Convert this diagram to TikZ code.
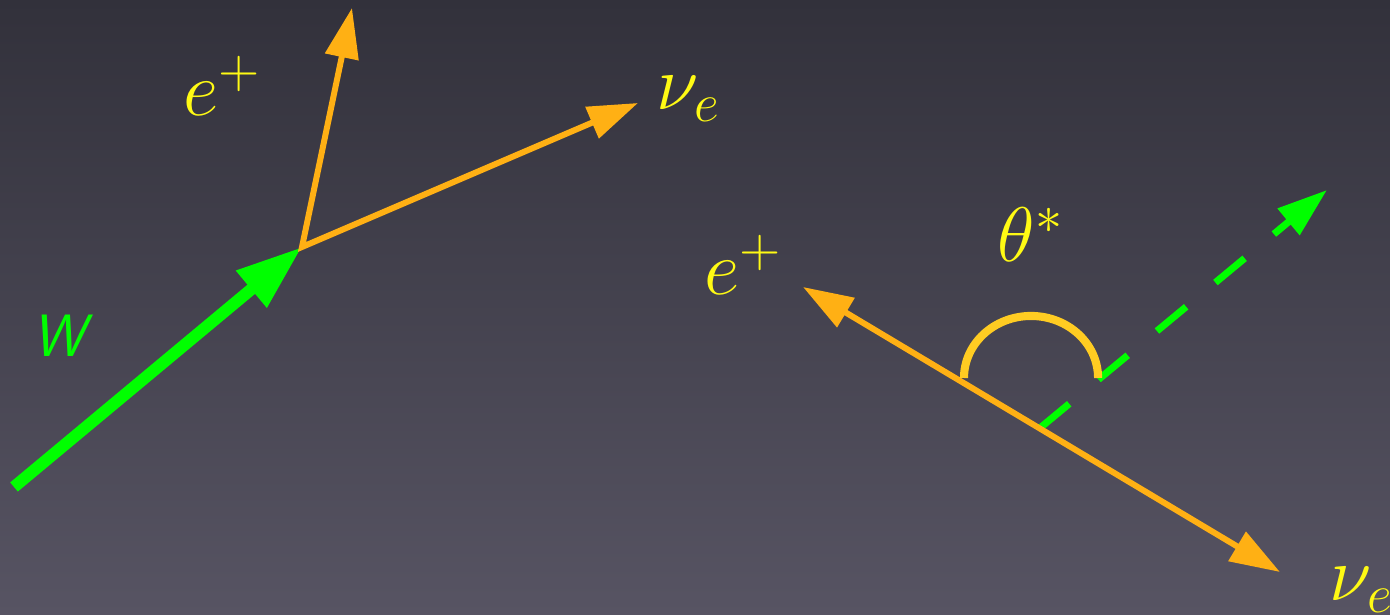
\RequirePackage{fix-cm}
\documentclass[tikz,border=0pt]{standalone}
\usetikzlibrary{arrows.meta}

\definecolor{bgtop}{RGB}{50,49,59}
\definecolor{bgbot}{RGB}{87,84,99}
\definecolor{lepton}{RGB}{255,176,20}
\definecolor{boson}{RGB}{0,255,0}
\definecolor{lblyellow}{RGB}{255,250,20}
\definecolor{anglecol}{RGB}{255,204,34}

\tikzset{
  lep/.style={draw=lepton, line width=1.7pt, >={Triangle[length=5mm,width=3.3mm]}},
  lbl/.style={anchor=base west, inner sep=0pt, text=lblyellow, font=\fontsize{22}{26}\selectfont},
}

\begin{document}
\begin{tikzpicture}[x=0.01cm, y=0.01cm]
  \shade[top color=bgtop, bottom color=bgbot] (0,0) rectangle (1390,615);
  \useasboundingbox (0,0) rectangle (1390,615);

  % lab frame
  \coordinate (Wtail) at (14,128);
  \coordinate (V) at (302,368);
  \coordinate (eL) at (352,607);
  \coordinate (nuL) at (638,512);

  \draw[boson, line width=3.4pt, -{Triangle[length=6.6mm,width=4.5mm]}] (Wtail) -- (V);
  \draw[lep, <->] (eL) -- (V) -- (nuL);

  \node[lbl] (eLlbl) at (183,499) {$e^+$};
  \node[lbl] (nuLlbl) at (656,505) {$\nu_e$};
  \node[anchor=base west, inner sep=0pt, text=boson,
        font=\fontsize{17}{20}\selectfont\sffamily\slshape] (Wlbl) at (32,258) {W};

  % rest frame
  \coordinate (eR) at (803,328);
  \coordinate (nuR) at (1280,43);
  \coordinate (G0) at (1040,187);
  \coordinate (Gtip) at (1327,425);

  \draw[boson, line width=2pt, dash pattern=on 10.8pt off 10.8pt,
        -{Triangle[length=5mm,width=3.3mm]}] (G0) -- (Gtip);
  \draw[lep, <->] (eR) -- (nuR);
  \draw[anglecol, line width=2.3pt] (964,237) arc[start angle=180, end angle=0, x radius=0.67cm, y radius=0.62cm];

  \node[lbl] (eRlbl) at (704,320) {$e^+$};
  \node[lbl] (thlbl) at (997,353) {$\theta^*$};
  \node[lbl] (nuRlbl) at (1329,14) {$\nu_e$};
\end{tikzpicture}
\end{document}
